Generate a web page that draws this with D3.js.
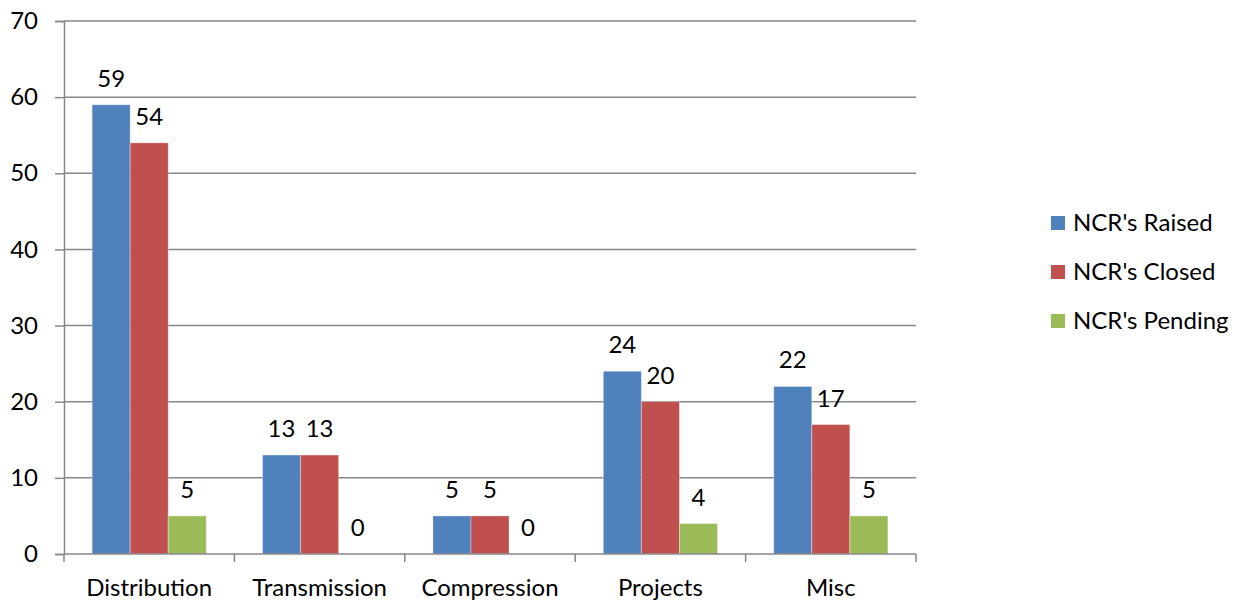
<!DOCTYPE html>
<html>
<head>
<meta charset="utf-8">
<script src="https://cdn.jsdelivr.net/npm/d3@7"></script>
<style>
  html, body { margin: 0; padding: 0; background: #ffffff; }
  svg { display: block; }
  text { font-family: Lato, "Open Sans", "Liberation Sans", sans-serif; fill: #000; }
</style>
</head>
<body>
<svg id="chart" width="1237" height="602"></svg>
<script>
// Chart data
const categories = ["Distribution", "Transmission", "Compression", "Projects", "Misc"];
const seriesNames = ["NCR's Raised", "NCR's Closed", "NCR's Pending"];
const raised  = [59, 13, 5, 24, 22];
const closed  = [54, 13, 5, 20, 17];
const pending = [5, 0, 0, 4, 5];
const yTicks = [0, 10, 20, 30, 40, 50, 60, 70];

const seriesValues = [raised, closed, pending];
const colors = ["#4F81BD", "#C0504D", "#9BBB59"];

const svg = d3.select("#chart");
const plot = { left: 64, right: 916, top: 21, bottom: 554 };
const fontSize = 24;

const x0 = d3.scaleBand()
  .domain(categories)
  .range([plot.left, plot.right])
  .paddingInner(0.33)
  .paddingOuter(0.165);
const x1 = d3.scaleBand()
  .domain(seriesNames)
  .range([0, x0.bandwidth()]);
const y = d3.scaleLinear().domain([0, 70]).range([plot.bottom, plot.top]);

const gridColor = "#878787";

// Horizontal gridlines
svg.append("g")
  .selectAll("line")
  .data(yTicks.filter(t => t > 0))
  .join("line")
  .attr("x1", plot.left).attr("x2", plot.right)
  .attr("y1", d => y(d)).attr("y2", d => y(d))
  .attr("stroke", gridColor).attr("stroke-width", 1.5);

// Y axis
const yAxis = svg.append("g")
  .attr("transform", `translate(${plot.left},0)`)
  .call(d3.axisLeft(y).tickValues(yTicks).tickSize(9).tickPadding(17));
yAxis.select(".domain").attr("stroke", gridColor).attr("stroke-width", 1.5);
yAxis.selectAll(".tick line").attr("stroke", gridColor).attr("stroke-width", 1.5);
yAxis.selectAll(".tick text")
  .style("font-family", "Lato, 'Open Sans', sans-serif")
  .attr("font-size", fontSize).attr("fill", "#000");

// Bars
const groups = svg.append("g")
  .selectAll("g")
  .data(categories)
  .join("g")
  .attr("transform", d => `translate(${x0(d)},0)`);

groups.selectAll("rect")
  .data((c, i) => seriesNames.map((s, k) => ({ s, v: seriesValues[k][i], k })))
  .join("rect")
  .attr("x", d => x1(d.s))
  .attr("width", x1.bandwidth())
  .attr("y", d => y(d.v))
  .attr("height", d => plot.bottom - y(d.v))
  .attr("fill", d => colors[d.k])
  .attr("stroke", "rgba(255,255,255,0.35)")
  .attr("stroke-width", 1);

// Value labels
groups.selectAll("text")
  .data((c, i) => seriesNames.map((s, k) => ({ s, v: seriesValues[k][i], k })))
  .join("text")
  .attr("x", d => x1(d.s) + x1.bandwidth() / 2)
  .attr("y", d => y(d.v) - 18)
  .attr("text-anchor", "middle")
  .attr("font-size", fontSize)
  .text(d => d.v);

// X axis
const xAxisG = svg.append("g").attr("transform", `translate(0,${plot.bottom})`);
xAxisG.append("line")
  .attr("x1", plot.left).attr("x2", plot.right)
  .attr("stroke", gridColor).attr("stroke-width", 1.5);
const step = (plot.right - plot.left) / categories.length;
xAxisG.selectAll("line.tick")
  .data(d3.range(categories.length + 1))
  .join("line")
  .attr("class", "tick")
  .attr("x1", d => plot.left + d * step).attr("x2", d => plot.left + d * step)
  .attr("y1", 0).attr("y2", 8)
  .attr("stroke", gridColor).attr("stroke-width", 1.5);
xAxisG.selectAll("text")
  .data(categories)
  .join("text")
  .attr("x", d => x0(d) + x0.bandwidth() / 2)
  .attr("y", 42)
  .attr("text-anchor", "middle")
  .attr("font-size", fontSize)
  .text(d => d);

// Legend
const legend = svg.append("g")
  .selectAll("g")
  .data(seriesNames)
  .join("g")
  .attr("transform", (d, i) => `translate(1051,${223 + i * 49})`);
legend.append("rect")
  .attr("x", 0).attr("y", -7)
  .attr("width", 14).attr("height", 14)
  .attr("fill", (d, i) => colors[i]);
legend.append("text")
  .attr("x", 22).attr("y", 0)
  .attr("dy", "0.35em")
  .attr("font-size", fontSize)
  .text(d => d);
</script>
</body>
</html>
